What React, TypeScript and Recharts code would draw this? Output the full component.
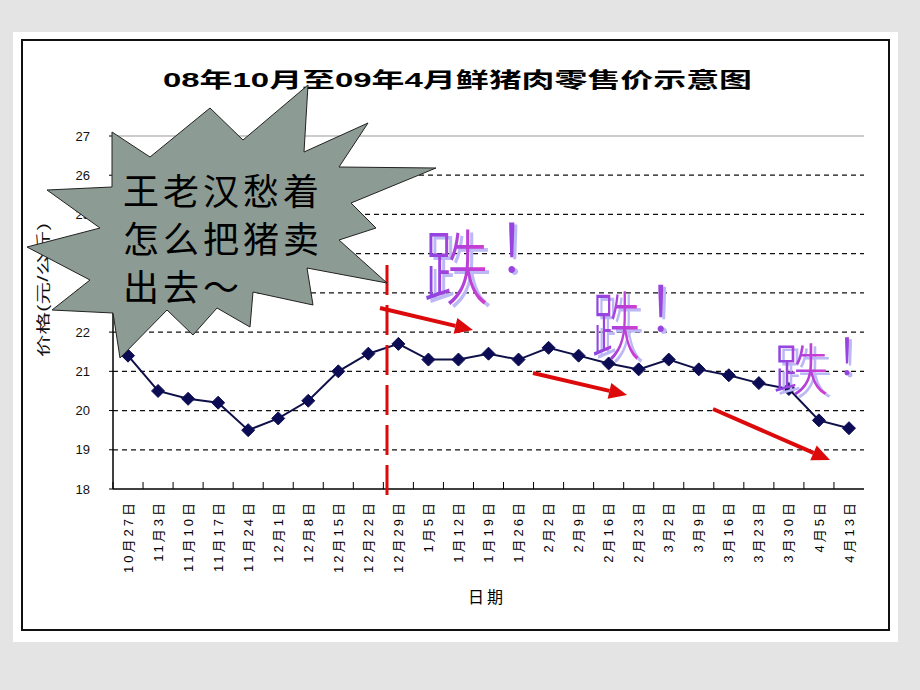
import React from 'react'
import {
  CartesianGrid,
  Line,
  LineChart,
  ReferenceLine,
  XAxis,
  YAxis,
} from 'recharts'

const dates = [
  '10月27日', '11月3日', '11月10日', '11月17日', '11月24日',
  '12月1日', '12月8日', '12月15日', '12月22日', '12月29日',
  '1月5日', '1月12日', '1月19日', '1月26日', '2月2日',
  '2月9日', '2月16日', '2月23日', '3月2日', '3月9日',
  '3月16日', '3月23日', '3月30日', '4月5日', '4月13日',
]
const prices = [
  21.4, 20.5, 20.3, 20.2, 19.5,
  19.8, 20.25, 21.0, 21.45, 21.7,
  21.3, 21.3, 21.45, 21.3, 21.6,
  21.4, 21.2, 21.05, 21.3, 21.05,
  20.9, 20.7, 20.55, 19.75, 19.55,
]
const yTicks = [18, 19, 20, 21, 22, 23, 24, 25, 26, 27]
const gridValues = [19, 20, 21, 22, 23, 24, 25, 26]

const title = '08年10月至09年4月鲜猪肉零售价示意图'
const yTitle = '价格(元/公斤)'
const xTitle = '日期'
const bubbleLines = ['王老汉愁着', '怎么把猪卖', '出去～']

const rows = dates.map((d, i) => ({ date: d, price: prices[i] }))

const FONT = '"Liberation Sans", "Noto Sans CJK SC", sans-serif'
const CJK = '"Noto Sans CJK SC", sans-serif'

// plot area edges (px)
const PLOT_L = 113
const PLOT_R = 864
const PLOT_T = 136
const PLOT_B = 489
const BAND = (PLOT_R - PLOT_L) / dates.length
const LABEL_GAP = 11

const star = [
  [308, 85], [304, 152], [368, 123], [339, 167], [436, 168], [351, 203],
  [376, 228], [339, 240], [387, 283], [307, 268], [313, 305], [253, 292],
  [250, 327], [217, 308], [193, 335], [167, 310], [120, 358], [113, 313],
  [52, 310], [90, 280], [27, 247], [100, 228], [47, 190], [112, 187],
  [112, 132], [150, 157], [210, 108], [243, 140],
]

const DateTick = (props: any) => {
  const { x, y, payload, index } = props
  const axisY = y - LABEL_GAP
  return (
    <g>
      <line x1={x - BAND / 2} x2={x - BAND / 2} y1={axisY} y2={axisY - 7} stroke="#000" />
      <text
        transform={`translate(${x},${y}) rotate(-90)`}
        textAnchor="end"
        dy="0.35em"
        fontSize={13}
        letterSpacing={3}
        fill="#000"
        fontFamily={FONT}
      >
        {payload.value}
      </text>
    </g>
  )
}

const Diamond = (props: any) => {
  const { cx, cy, index } = props
  const r = 6.5
  return (
    <polygon
      key={`dot-${index}`}
      points={`${cx},${cy - r} ${cx + r},${cy} ${cx},${cy + r} ${cx - r},${cy}`}
      fill="#0c0c55"
      stroke="#0c0c55"
      strokeWidth={1}
    />
  )
}

const Arrow = ({ x1, y1, x2, y2 }: { x1: number; y1: number; x2: number; y2: number }) => {
  const dx = x2 - x1
  const dy = y2 - y1
  const len = Math.hypot(dx, dy)
  const ux = dx / len
  const uy = dy / len
  const hl = 18
  const hw = 8
  const bx = x2 - ux * hl
  const by = y2 - uy * hl
  return (
    <g>
      <line x1={x1} y1={y1} x2={bx} y2={by} stroke="#dc0a0a" strokeWidth={4} />
      <polygon
        points={`${x2},${y2} ${bx - uy * hw},${by + ux * hw} ${bx + uy * hw},${by - ux * hw}`}
        fill="#dc0a0a"
      />
    </g>
  )
}

// WordArt-like "跌！"
const Die = ({ x, y, size, sx, bx, by, bsize }: any) => {
  const ex = bx - 0.27 * bsize
  return (
    <g fontFamily={CJK} fontWeight={300}>
      <text transform={`translate(${x + 4},${y + 3}) scale(${sx},1)`} textAnchor="middle" fontSize={size} fill="#bcb8f6">跌</text>
      <text transform={`translate(${x},${y}) scale(${sx},1)`} textAnchor="middle" fontSize={size} fill="url(#wordart)">跌</text>
      <text x={ex + 3} y={by + 2} fontSize={bsize} fill="#bcb8f6">！</text>
      <text x={ex} y={by} fontSize={bsize} fill="url(#wordart)">！</text>
    </g>
  )
}

export default function App() {
  return (
    <div
      style={{
        position: 'absolute',
        left: 0,
        top: 0,
        width: 920,
        height: 690,
        background: '#e4e4e4',
        overflow: 'hidden',
        fontFamily: FONT,
      }}
    >
      <div style={{ position: 'absolute', left: 13, top: 32, width: 885, height: 610, background: '#fff' }} />
      <div
        style={{
          position: 'absolute',
          left: 21,
          top: 39,
          width: 869,
          height: 592,
          border: '2px solid #111',
          boxSizing: 'border-box',
        }}
      />
      <div style={{ position: 'absolute', left: 0, top: 0 }}>
        <LineChart
          width={920}
          height={690}
          data={rows}
          margin={{ top: PLOT_T, right: 920 - PLOT_R, bottom: 690 - PLOT_B - 100, left: PLOT_L - 100 }}
        >
          <CartesianGrid
            vertical={false}
            horizontalValues={gridValues}
            stroke="#111"
            strokeWidth={1.3}
            strokeDasharray="5 4"
          />
          <ReferenceLine y={27} stroke="#999" strokeWidth={1} />
          <XAxis
            dataKey="date"
            interval={0}
            height={100}
            padding={{ left: BAND / 2, right: BAND / 2 }}
            tickSize={0}
            tickMargin={LABEL_GAP}
            tickLine={false}
            axisLine={{ stroke: '#000', strokeWidth: 1.5 }}
            tick={<DateTick />}
          />
          <YAxis
            domain={[18, 27]}
            ticks={yTicks}
            interval={0}
            width={100}
            tickSize={4}
            tickMargin={19}
            axisLine={{ stroke: '#000', strokeWidth: 1.5 }}
            tickLine={{ stroke: '#000' }}
            tick={{ fontSize: 13, fill: '#111', fontFamily: FONT }}
          />
          <YAxis
            yAxisId="r"
            orientation="right"
            domain={[18, 27]}
            width={0}
            tick={false}
            tickLine={false}
            axisLine={{ stroke: '#999' }}
          />
          <Line
            dataKey="price"
            stroke="#101048"
            strokeWidth={2}
            dot={<Diamond />}
            activeDot={false}
            isAnimationActive={false}
          />
        </LineChart>
      </div>

      <svg
        width={920}
        height={690}
        style={{ position: 'absolute', left: 0, top: 0, pointerEvents: 'none' }}
      >
        <defs>
          <linearGradient id="wordart" x1="0" y1="0" x2="1" y2="0">
            <stop offset="0%" stopColor="#8646e4" />
            <stop offset="100%" stopColor="#d63cd0" />
          </linearGradient>
        </defs>

        <text
          x={163}
          y={87}
          textLength={589}
          lengthAdjust="spacingAndGlyphs"
          fontSize={21}
          fontWeight="bold"
          fontFamily={FONT}
          fill="#000"
        >
          {title}
        </text>
        <text
          transform="translate(48,290) rotate(-90)"
          textAnchor="middle"
          textLength={134}
          lengthAdjust="spacingAndGlyphs"
          fontSize={14}
          fontFamily={FONT}
          fill="#111"
        >
          {yTitle}
        </text>
        <text x={487} y={603} textAnchor="middle" fontSize={16} letterSpacing={3} fontFamily={FONT} fill="#000">
          {xTitle}
        </text>

        <line x1={387} x2={387} y1={265} y2={495} stroke="#dc0a0a" strokeWidth={3} strokeDasharray="30 10" />
        <Arrow x1={380} y1={308} x2={473} y2={330} />
        <Arrow x1={533} y1={373} x2={627} y2={395} />
        <Arrow x1={713} y1={409} x2={830} y2={460} />

        <polygon
          points={star.map((p) => p.join(',')).join(' ')}
          fill="#8c9b93"
          stroke="#222"
          strokeWidth={1}
        />
        {bubbleLines.map((t, i) => (
          <text key={t} x={123} y={205 + i * 48} fontSize={36} letterSpacing={4} fontFamily={CJK} fill="#000">
            {t}
          </text>
        ))}

        <Die x={456} y={298} size={82} sx={0.8} bx={513} by={272} bsize={66} />
        <Die x={616} y={354} size={75} sx={0.65} bx={662} by={332} bsize={62} />
        <Die x={801} y={390} size={56} sx={1} bx={848} by={375} bsize={50} />
      </svg>
    </div>
  )
}
